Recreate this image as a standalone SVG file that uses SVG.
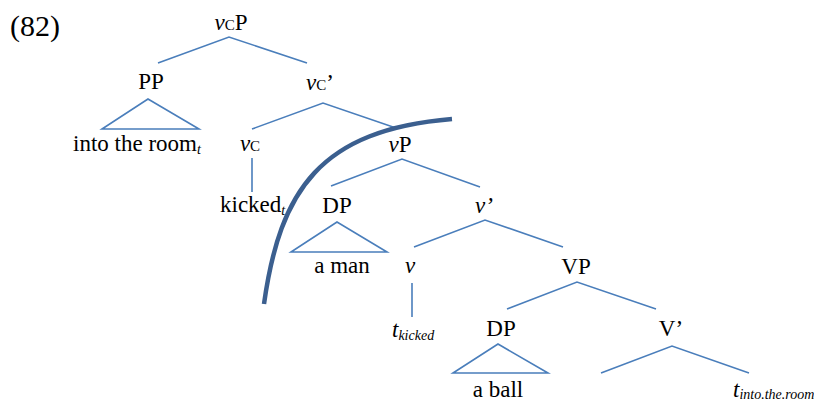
<svg xmlns="http://www.w3.org/2000/svg" width="814" height="403" viewBox="0 0 814 403" font-family="Liberation Serif, DejaVu Serif, serif">
<style>
text{font-family:'Liberation Serif','DejaVu Serif',serif;font-size:23px;fill:#000}
.m{text-anchor:middle}
.i{font-style:italic}
.sc{font-size:15px}
.sub{font-size:14px;font-style:italic}
.e{stroke:#4a7ebb;stroke-width:1.6;fill:none}
.cut{stroke:#3b5f8f;stroke-width:4.5;fill:none;stroke-linecap:butt}
</style>
<rect width="814" height="403" fill="#fff"/>
<text x="10" y="36" style="font-size:30px">(82)</text>
<g id="connectors">
<polyline class="e" points="158,63 229,37 307,63"/>
<polygon class="e" points="148,99 102,129 199,129"/>
<polyline class="e" points="252,129 323,103 396,128"/>
<line class="e" x1="252" y1="158" x2="252" y2="192"/>
<polyline class="e" points="331,186 402,159 480,187"/>
<polygon class="e" points="337,222 291,252 387,252"/>
<polyline class="e" points="414,247 485,220 563,247"/>
<line class="e" x1="412" y1="283" x2="412" y2="317"/>
<polyline class="e" points="507,309 577,282 656,309"/>
<polygon class="e" points="498,344 453,373 548,373"/>
<polyline class="e" points="601,373 672,346 749,373"/>
</g>
<g id="vCP"><text class="m" x="231" y="30"><tspan class="i">v</tspan><tspan class="sc">C</tspan>P</text></g>
<g id="PP"><text class="m" x="151" y="89">PP</text></g>
<g id="vCbar"><text class="m" x="320" y="90"><tspan class="i">v</tspan><tspan class="sc">C</tspan>’</text></g>
<g id="into-the-room"><text x="73" y="151">into the room<tspan class="sub" dy="3">t</tspan></text></g>
<g id="vC"><text class="m" x="250" y="151"><tspan class="i">v</tspan><tspan class="sc">C</tspan></text></g>
<g id="kicked"><text x="220" y="212">kicked<tspan class="sub" dy="3">t</tspan></text></g>
<g id="vP"><text class="m" x="400" y="152"><tspan class="i">v</tspan>P</text></g>
<g id="DP1"><text class="m" x="337" y="213">DP</text></g>
<g id="vbar"><text class="m i" x="484" y="213">v’</text></g>
<g id="a-man"><text class="m" x="342" y="273">a man</text></g>
<g id="v"><text class="m i" x="410" y="273">v</text></g>
<g id="t-kicked"><text class="i" x="392" y="337">t<tspan class="sub" dy="3">kicked</tspan></text></g>
<g id="VP"><text class="m" x="576" y="274">VP</text></g>
<g id="DP2"><text class="m" x="501" y="336">DP</text></g>
<g id="Vbar"><text class="m" x="671" y="336">V’</text></g>
<g id="a-ball"><text class="m" x="498" y="397">a ball</text></g>
<g id="t-into"><text class="i" x="733" y="397">t<tspan class="sub" dy="2">into.the.room</tspan></text></g>
<g id="cut"><path class="cut" d="M264,304 C280,190 320,130 452,119"/></g>
</svg>
